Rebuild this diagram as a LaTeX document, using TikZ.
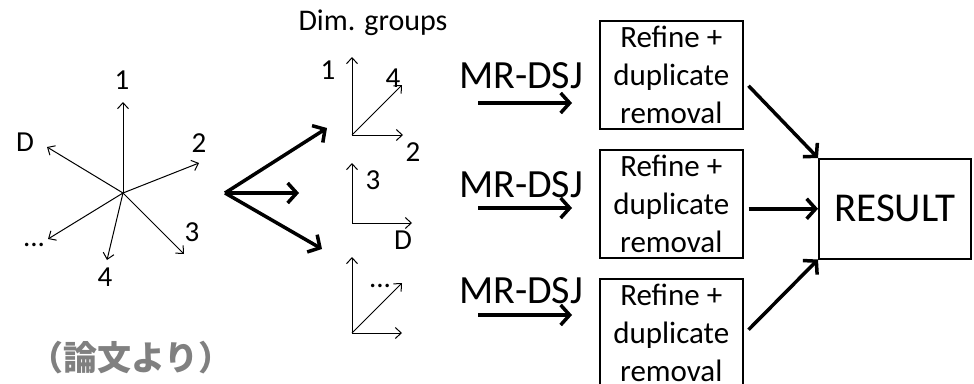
\documentclass[tikz,border=0pt]{standalone}
\usepackage{fontspec}
\setmainfont{Carlito}
\newfontfamily\cjk{Noto Sans CJK JP}
\usetikzlibrary{arrows.meta}
\definecolor{jpgray}{RGB}{128,128,128}
\tikzset{
  thin arr/.style={line width=1pt, -{Straight Barb[length=6pt,width=11pt]}},
  thick arr/.style={line width=3.5pt, -{Straight Barb[length=9pt,width=20pt]}},
  lbl/.style={inner sep=0pt, font=\fontsize{29}{30}\selectfont},
  box/.style={draw, line width=1.5pt, anchor=north west, minimum width=143pt, minimum height=108pt, inner sep=0pt, align=center, font=\fontsize{31}{38}\selectfont},
  mr/.style={inner sep=0pt, anchor=base, font=\fontsize{40}{44}\selectfont},
}
\begin{document}
\begin{tikzpicture}[x=1pt,y=-1pt]
\useasboundingbox (0,0) rectangle (974,383);
% star
\coordinate (c) at (123,193);
\coordinate (t1) at (123,102);
\coordinate (tD) at (47,147);
\coordinate (t2) at (199,163);
\coordinate (t3) at (184,254);
\coordinate (t4) at (107,260);
\coordinate (tdots) at (48,239);
\foreach \t in {t1,tD,t2,t3,t4,tdots} \draw[thin arr] (c) -- (\t);
\node[lbl] (l1) at (122,80) {1};
\node[lbl] (lD) at (25,142) {D};
\node[lbl] (l2) at (199,143) {2};
\node[lbl] (l3) at (192,232) {3};
\node[lbl] (l4) at (105,277) {4};
\node[lbl] (ldots) at (34,245) {...};
% fan
\coordinate (f) at (225,193);
\coordinate (fa) at (327,128);
\coordinate (fb) at (299,193);
\coordinate (fc) at (322,249);
\foreach \t in {fa,fb,fc} \draw[thick arr] (f) -- (\t);
% dim groups
\node[inner sep=0pt, anchor=base, font=\fontsize{30}{32}\selectfont] (dg) at (373,30) {Dim. groups};
\coordinate (g1) at (352,135);
\coordinate (g1u) at (352,57);
\coordinate (g1r) at (403,135);
\coordinate (g1d) at (402,85);
\draw[thin arr] (g1) -- (g1u);
\draw[thin arr] (g1) -- (g1r);
\draw[thin arr] (g1) -- (g1d);
\node[lbl] (g1l1) at (328,70) {1};
\node[lbl] (g1l4) at (393,78) {4};
\node[lbl] (g1l2) at (413,152) {2};
\coordinate (g2) at (352,223);
\coordinate (g2u) at (352,163);
\coordinate (g2r) at (412,223);
\draw[thin arr] (g2) -- (g2u);
\draw[thin arr] (g2) -- (g2r);
\node[lbl] (g2l3) at (373,180) {3};
\node[lbl] (g2lD) at (403,240) {D};
\coordinate (g3) at (352,333);
\coordinate (g3u) at (352,257);
\coordinate (g3r) at (402,333);
\coordinate (g3d) at (402,283);
\draw[thin arr] (g3) -- (g3u);
\draw[thin arr] (g3) -- (g3r);
\draw[thin arr] (g3) -- (g3d);
\node[lbl] (g3ld) at (380,286) {...};
% MR-DSJ
\node[mr] (m1) at (521,88) {MR-DSJ};
\node[mr] (m2) at (521,197) {MR-DSJ};
\node[mr] (m3) at (521,303) {MR-DSJ};
\coordinate (a1s) at (478,103); \coordinate (a1e) at (572,103);
\coordinate (a2s) at (478,208); \coordinate (a2e) at (572,208);
\coordinate (a3s) at (478,315); \coordinate (a3e) at (572,315);
\draw[thick arr] (a1s) -- (a1e);
\draw[thick arr] (a2s) -- (a2e);
\draw[thick arr] (a3s) -- (a3e);
% boxes
\node[box] (b1) at (599,20) {Refine +\\duplicate\\removal};
\node[box] (b2) at (599,149) {Refine +\\duplicate\\removal};
\node[box] (b3) at (599,278) {Refine +\\duplicate\\removal};
\node[draw, line width=1.5pt, anchor=north west, minimum width=152pt, minimum height=100pt, inner sep=0pt, font=\fontsize{41}{44}\selectfont] (res) at (818,158) {RESULT};
\draw[thick arr] ([xshift=5pt,yshift=-11pt]b1.east) -- (res.north west);
\draw[thick arr] ([xshift=5pt]b2.east |- res.west) -- (res.west);
\draw[thick arr] ([xshift=5pt,yshift=3pt]b3.east) -- (res.south west);
% Japanese note
\node[inner sep=0pt, text=jpgray, font=\cjk\bfseries\fontsize{34}{38}\selectfont] (jp) at (131,358) {（論文より）};
\end{tikzpicture}
\end{document}
